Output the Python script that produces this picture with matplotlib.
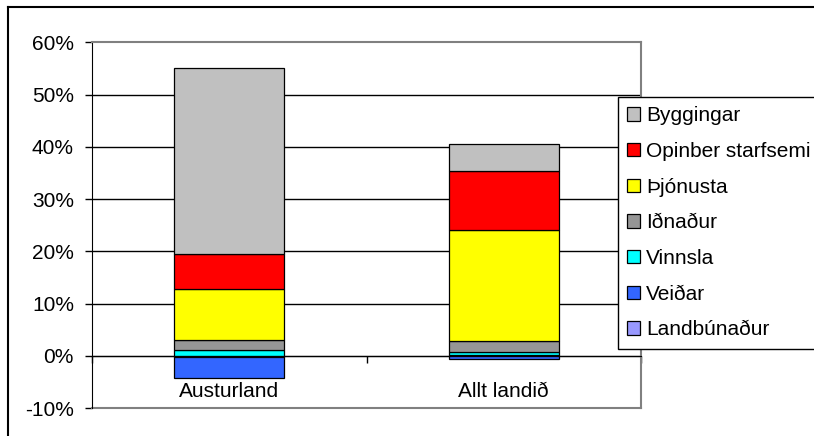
import matplotlib.pyplot as plt
import numpy as np
from matplotlib.lines import Line2D

plt.rcParams['font.family'] = ['Liberation Sans', 'DejaVu Sans']

regions = ["Austurland", "Allt landið"]
series = ["Landbúnaður", "Veiðar", "Vinnsla", "Iðnaður", "Þjónusta", "Opinber starfsemi", "Byggingar"]
colors = ["#9999FF", "#3366FF", "#00FFFF", "#969696", "#FFFF00", "#FF0000", "#C0C0C0"]

# percent of total per sector
landbunadur = [-0.2, 0.2]
veidar = [-4.1, -0.6]
vinnsla = [1.1, 0.5]
idnadur = [1.9, 2.1]
thjonusta = [9.8, 21.2]
opinber = [6.6, 11.3]
byggingar = [35.7, 5.2]
values = [landbunadur, veidar, vinnsla, idnadur, thjonusta, opinber, byggingar]

yticks = [-10, 0, 10, 20, 30, 40, 50, 60]
ytick_labels = [f"{v}%" for v in yticks]

fs = 15

fig = plt.figure(figsize=(8.14, 4.36), dpi=100)
ax = fig.add_axes([92 / 814, 28 / 436, 549 / 814, 365.5 / 436])

x = np.arange(len(regions))
pos_bottom = np.zeros(len(regions))
neg_bottom = np.zeros(len(regions))
handles = []
for name, vals, col in zip(series, values, colors):
    vals = np.array(vals, dtype=float)
    bottom = np.where(vals >= 0, pos_bottom, neg_bottom)
    b = ax.bar(x, vals, width=0.4, bottom=bottom, color=col, edgecolor='black',
               linewidth=0.9, label=name, zorder=3)
    handles.append(b)
    pos_bottom += np.where(vals >= 0, vals, 0)
    neg_bottom += np.where(vals < 0, vals, 0)

ax.set_xlim(-0.5, len(regions) - 0.5)
ax.set_ylim(-10, 60)

for v in yticks[1:-1]:
    ax.axhline(v, color='black', linewidth=1.0, zorder=1)
ax.axhline(-10, color='#808080', linewidth=1.5, zorder=2, clip_on=False)

ax.set_yticks(yticks)
ax.set_yticklabels(ytick_labels, fontsize=fs)
ax.tick_params(axis='y', direction='out', length=5, width=1, pad=8)

ax.spines['bottom'].set_position(('data', 0))
ax.spines['bottom'].set_color('black')
ax.spines['bottom'].set_zorder(4)
ax.spines['left'].set_color('black')
for s in ['top', 'right']:
    ax.spines[s].set_color('#808080')
    ax.spines[s].set_linewidth(1.5)

ax.set_xticks(x)
ax.set_xticklabels(regions, fontsize=fs)
ax.set_xticks(np.arange(-0.5, len(regions)), minor=True)
ax.tick_params(axis='x', which='major', length=0, pad=19)
ax.tick_params(axis='x', which='minor', direction='out', length=5, width=1)

fig.legend(handles[::-1], series[::-1], loc='upper left',
           bbox_to_anchor=(618 / 814, 1 - 97 / 436), fontsize=fs,
           frameon=True, fancybox=False, edgecolor='black', framealpha=1,
           handlelength=0.6, handleheight=0.6, handletextpad=0.3,
           labelspacing=0.8, borderpad=0.45, borderaxespad=0)

fig.add_artist(Line2D([8 / 814, 8 / 814], [0, 1 - 7 / 436], color='black', linewidth=1.5))
fig.add_artist(Line2D([8 / 814, 1], [1 - 7 / 436, 1 - 7 / 436], color='black', linewidth=1.5))

fig.savefig("out.png", dpi=100)
